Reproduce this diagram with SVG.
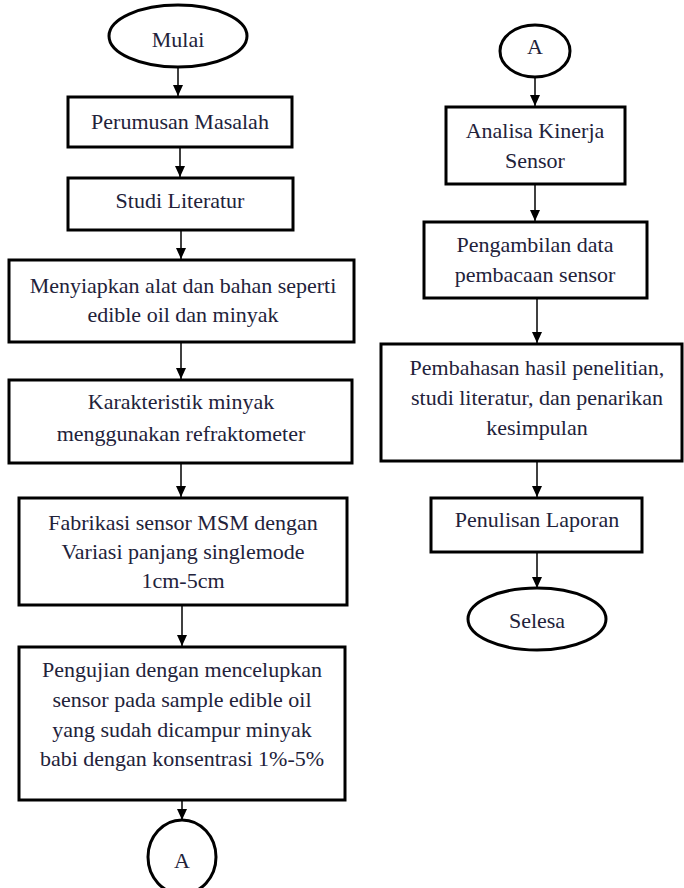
<svg xmlns="http://www.w3.org/2000/svg" width="684" height="888" viewBox="0 0 684 888">
<defs>
<marker id="arr" markerUnits="userSpaceOnUse" markerWidth="11" markerHeight="10" refX="11" refY="5" orient="auto" viewBox="0 0 11 10">
<path d="M0,0 L11,5 L0,10 Z" fill="#000"/>
</marker>
<style>
.box{fill:#fff;stroke:#000;stroke-width:3}
.t{font-family:"Liberation Serif","Times New Roman",serif;font-size:22px;fill:#22223a;text-anchor:middle}
.c{stroke:#000;stroke-width:1.5;fill:none}
</style>
</defs>
<rect width="684" height="888" fill="#fff"/>
<g id="connectors">
<line class="c" x1="178" y1="67" x2="178" y2="96" marker-end="url(#arr)"/>
<line class="c" x1="180" y1="147" x2="180" y2="177" marker-end="url(#arr)"/>
<line class="c" x1="181" y1="230" x2="181" y2="259" marker-end="url(#arr)"/>
<line class="c" x1="181" y1="342" x2="181" y2="379" marker-end="url(#arr)"/>
<line class="c" x1="181" y1="463" x2="181" y2="497" marker-end="url(#arr)"/>
<line class="c" x1="182" y1="605" x2="182" y2="646" marker-end="url(#arr)"/>
<line class="c" x1="182" y1="800" x2="182" y2="820" marker-end="url(#arr)"/>
<line class="c" x1="535" y1="77" x2="535" y2="106" marker-end="url(#arr)"/>
<line class="c" x1="535" y1="184" x2="535" y2="221" marker-end="url(#arr)"/>
<line class="c" x1="537" y1="298" x2="537" y2="343" marker-end="url(#arr)"/>
<line class="c" x1="537" y1="461" x2="537" y2="497" marker-end="url(#arr)"/>
<line class="c" x1="537" y1="552" x2="537" y2="588" marker-end="url(#arr)"/>
</g>
<g id="mulai">
<ellipse class="box" cx="178" cy="36" rx="69" ry="31"/>
<text class="t" x="178" y="47">Mulai</text>
</g>
<g id="perumusan">
<rect class="box" x="68" y="97" width="224" height="50"/>
<text class="t" x="180" y="129">Perumusan Masalah</text>
</g>
<g id="studi">
<rect class="box" x="68" y="178" width="225" height="52"/>
<text class="t" x="180" y="208">Studi Literatur</text>
</g>
<g id="menyiapkan">
<rect class="box" x="9" y="260" width="345" height="82"/>
<text class="t" x="183" y="293">Menyiapkan alat dan bahan seperti</text>
<text class="t" x="183" y="322">edible oil dan minyak</text>
</g>
<g id="karakteristik">
<rect class="box" x="9" y="380" width="343" height="83"/>
<text class="t" x="181" y="409">Karakteristik minyak</text>
<text class="t" x="181" y="441">menggunakan refraktometer</text>
</g>
<g id="fabrikasi">
<rect class="box" x="19" y="498" width="328" height="107"/>
<text class="t" x="183" y="530">Fabrikasi sensor MSM dengan</text>
<text class="t" x="183" y="559">Variasi panjang singlemode</text>
<text class="t" x="183" y="588">1cm-5cm</text>
</g>
<g id="pengujian">
<rect class="box" x="19" y="647" width="326" height="153"/>
<text class="t" x="182" y="677">Pengujian dengan mencelupkan</text>
<text class="t" x="182" y="707">sensor pada sample edible oil</text>
<text class="t" x="182" y="737">yang sudah dicampur minyak</text>
<text class="t" x="182" y="766">babi dengan konsentrasi 1%-5%</text>
</g>
<g id="a-bottom">
<ellipse class="box" cx="182" cy="857" rx="34" ry="37"/>
<text class="t" x="182" y="868">A</text>
</g>
<g id="a-top">
<ellipse class="box" cx="535" cy="51" rx="35" ry="26"/>
<text class="t" x="535" y="54">A</text>
</g>
<g id="analisa">
<rect class="box" x="446" y="107" width="179" height="77"/>
<text class="t" x="535" y="138">Analisa Kinerja</text>
<text class="t" x="535" y="168">Sensor</text>
</g>
<g id="pengambilan">
<rect class="box" x="424" y="222" width="223" height="76"/>
<text class="t" x="535" y="252">Pengambilan data</text>
<text class="t" x="535" y="282">pembacaan sensor</text>
</g>
<g id="pembahasan">
<rect class="box" x="381" y="344" width="301" height="117"/>
<text class="t" x="537" y="375">Pembahasan hasil penelitian,</text>
<text class="t" x="537" y="405">studi literatur, dan penarikan</text>
<text class="t" x="537" y="435">kesimpulan</text>
</g>
<g id="penulisan">
<rect class="box" x="431" y="498" width="211" height="54"/>
<text class="t" x="537" y="527">Penulisan Laporan</text>
</g>
<g id="selesa">
<ellipse class="box" cx="537" cy="619" rx="69" ry="31"/>
<text class="t" x="537" y="628">Selesa</text>
</g>
</svg>
